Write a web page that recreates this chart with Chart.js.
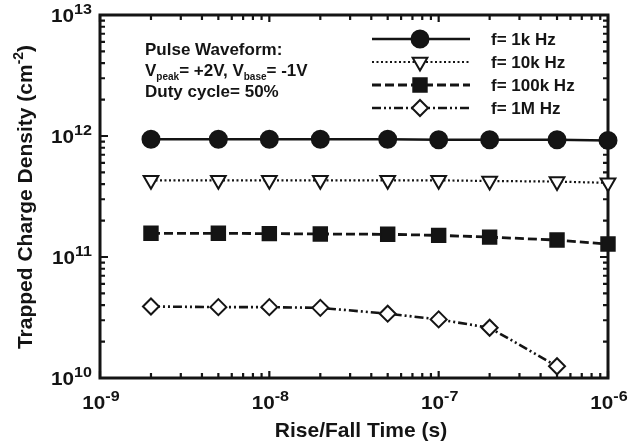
<!DOCTYPE html>
<html>
<head>
<meta charset="utf-8">
<script src="https://cdn.jsdelivr.net/npm/chart.js@4.4.1/dist/chart.umd.min.js"></script>
<style>
  html, body { margin: 0; padding: 0; background: #ffffff; }
  #wrap { width: 639px; height: 444px; }
</style>
</head>
<body>
<div id="wrap"><canvas id="c" width="639" height="444"></canvas></div>
<script>
// ---- Data ----
const riseFallTimes = [2e-9, 5e-9, 1e-8, 2e-8, 5e-8, 1e-7, 2e-7, 5e-7, 1e-6];
const density1k   = [9.4e11, 9.4e11, 9.4e11, 9.4e11, 9.4e11, 9.3e11, 9.3e11, 9.3e11, 9.2e11];
const density10k  = [4.3e11, 4.3e11, 4.3e11, 4.3e11, 4.3e11, 4.3e11, 4.25e11, 4.2e11, 4.1e11];
const density100k = [1.57e11, 1.57e11, 1.56e11, 1.55e11, 1.54e11, 1.51e11, 1.46e11, 1.38e11, 1.28e11];
const density1M   = [3.9e10, 3.85e10, 3.85e10, 3.8e10, 3.4e10, 3.05e10, 2.6e10, 1.25e10, null];
const seriesLabels = ['f= 1k Hz', 'f= 10k Hz', 'f= 100k Hz', 'f= 1M Hz'];
const xTickExponents = [-9, -8, -7, -6];
const yTickExponents = [10, 11, 12, 13];
const xTitle = 'Rise/Fall Time (s)';
const yTitle = 'Trapped Charge Density (cm';
const noteLines = ['Pulse Waveform:', 'Duty cycle= 50%'];

const INK = '#141414';
const FONT = '"Liberation Sans", Arial, Helvetica, sans-serif';

function toPoints(vals) {
  return riseFallTimes.map((t, i) => ({ x: t, y: vals[i] })).filter(p => p.y !== null);
}

const styles = [
  { pointStyle: 'circle',   radius: 8.5, rotation: 0,   fill: INK,    dash: [],              lw: 2.5 },
  { pointStyle: 'triangle', radius: 8.5, rotation: 180, fill: '#fff', dash: [2, 2.5],        lw: 2.2 },
  { pointStyle: 'rect',     radius: 9.5, rotation: 0,   fill: INK,    dash: [9, 4],          lw: 2.8 },
  { pointStyle: 'rectRot',  radius: 8,   rotation: 0,   fill: '#fff', dash: [9, 3, 2, 3, 2, 3], lw: 2.6 }
];
const seriesValues = [density1k, density10k, density100k, density1M];

const datasets = seriesValues.map((vals, i) => ({
  label: seriesLabels[i],
  data: toPoints(vals),
  showLine: true,
  borderColor: INK,
  borderWidth: styles[i].lw,
  borderDash: styles[i].dash,
  pointStyle: styles[i].pointStyle,
  pointRadius: styles[i].radius,
  pointRotation: styles[i].rotation,
  pointBackgroundColor: styles[i].fill,
  pointBorderColor: INK,
  pointBorderWidth: 2,
  tension: 0,
  clip: false
}));

function drawMarker(ctx, st, x, y) {
  ctx.save();
  ctx.setLineDash([]);
  ctx.fillStyle = st.fill;
  ctx.strokeStyle = INK;
  ctx.lineWidth = 2;
  Chart.helpers.drawPoint(ctx, { pointStyle: st.pointStyle, rotation: st.rotation, radius: st.radius, borderWidth: 2 }, x, y);
  ctx.restore();
}

// "10" with superscript exponent, slightly widened like the reference lettering
function powerLabel(ctx, exp, x, y, align, baseSize, expSize) {
  const sx = 1.15;
  const base = '10', ex = String(exp);
  ctx.font = 'bold ' + baseSize + 'px ' + FONT;
  const wb = ctx.measureText(base).width * sx;
  ctx.font = 'bold ' + expSize + 'px ' + FONT;
  const we = ctx.measureText(ex).width * sx;
  const total = wb + we;
  let x0 = align === 'center' ? x - total / 2 : (align === 'right' ? x - total : x);
  ctx.save();
  ctx.translate(x0, y);
  ctx.scale(sx, 1);
  ctx.textAlign = 'left';
  ctx.textBaseline = 'alphabetic';
  ctx.font = 'bold ' + baseSize + 'px ' + FONT;
  ctx.fillText(base, 0, 0);
  ctx.font = 'bold ' + expSize + 'px ' + FONT;
  ctx.fillText(ex, wb / sx, -baseSize * 0.45);
  ctx.restore();
}

const framePlugin = {
  id: 'frame',
  beforeDatasetsDraw(chart) {
    const { ctx, chartArea: a, scales } = chart;
    const xs = scales.x, ys = scales.y;
    ctx.save();
    ctx.strokeStyle = INK;
    ctx.fillStyle = INK;
    // minor/major ticks on all four sides (inward)
    ctx.lineWidth = 2.2;
    ctx.lineCap = 'butt';
    for (let e = -9; e <= -6; e++) {
      for (let m = 1; m <= 9; m++) {
        const v = m * Math.pow(10, e);
        if (v > 1.0001e-6) break;
        const px = xs.getPixelForValue(v);
        const len = m === 1 ? 7 : 5;
        ctx.beginPath();
        ctx.moveTo(px, a.bottom); ctx.lineTo(px, a.bottom - len);
        ctx.moveTo(px, a.top); ctx.lineTo(px, a.top + len);
        ctx.stroke();
      }
    }
    for (let e = 10; e <= 13; e++) {
      for (let m = 1; m <= 9; m++) {
        const v = m * Math.pow(10, e);
        if (v > 1.0001e13) break;
        const py = ys.getPixelForValue(v);
        const len = m === 1 ? 8 : 5;
        ctx.beginPath();
        ctx.moveTo(a.left, py); ctx.lineTo(a.left + len, py);
        ctx.moveTo(a.right, py); ctx.lineTo(a.right - len, py);
        ctx.stroke();
      }
    }
    // frame
    ctx.lineWidth = 3;
    ctx.strokeRect(a.left, a.top, a.right - a.left, a.bottom - a.top);

    // tick labels
    xTickExponents.forEach(e => {
      powerLabel(ctx, e, xs.getPixelForValue(Math.pow(10, e)) + 1, a.bottom + 31, 'center', 18, 14);
    });
    yTickExponents.forEach(e => {
      powerLabel(ctx, e, a.left - 8, ys.getPixelForValue(Math.pow(10, e)) + 7, 'right', 18, 14);
    });

    // axis titles
    ctx.font = 'bold 21px ' + FONT;
    ctx.textAlign = 'center';
    ctx.textBaseline = 'alphabetic';
    ctx.fillText(xTitle, (a.left + a.right) / 2 + 7, 437);

    ctx.save();
    ctx.translate(32, 197);
    ctx.rotate(-Math.PI / 2);
    ctx.font = 'bold 21px ' + FONT;
    const w1 = ctx.measureText(yTitle).width;
    ctx.font = 'bold 14px ' + FONT;
    const w2 = ctx.measureText('-2').width;
    ctx.font = 'bold 21px ' + FONT;
    const w3 = ctx.measureText(')').width;
    const tw = w1 + w2 + w3;
    let x0 = -tw / 2;
    ctx.textAlign = 'left';
    ctx.fillText(yTitle, x0, 0);
    ctx.font = 'bold 14px ' + FONT;
    ctx.fillText('-2', x0 + w1, -9);
    ctx.font = 'bold 21px ' + FONT;
    ctx.fillText(')', x0 + w1 + w2, 0);
    ctx.restore();

    // annotation
    ctx.textAlign = 'left';
    ctx.font = 'bold 17px ' + FONT;
    ctx.fillText(noteLines[0], 145, 55);
    let x = 145;
    const yb = 76;
    const parts = [
      ['V', 17, 0], ['peak', 10, 4], ['= +2V, V', 17, 0], ['base', 10, 4], ['= -1V', 17, 0]
    ];
    parts.forEach(([t, s, dy]) => {
      ctx.font = 'bold ' + s + 'px ' + FONT;
      ctx.fillText(t, x, yb + dy);
      x += ctx.measureText(t).width;
    });
    ctx.font = 'bold 17px ' + FONT;
    ctx.fillText(noteLines[1], 145, 97);

    // legend
    const rows = [39, 62, 85, 108];
    rows.forEach((ry, i) => {
      const st = styles[i];
      ctx.save();
      ctx.strokeStyle = INK;
      ctx.lineWidth = st.lw;
      ctx.setLineDash(st.dash);
      ctx.beginPath();
      ctx.moveTo(372, ry); ctx.lineTo(470, ry);
      ctx.stroke();
      ctx.restore();
      drawMarker(ctx, st, 420, ry);
      ctx.fillStyle = INK;
      ctx.font = 'bold 17px ' + FONT;
      ctx.textAlign = 'left';
      ctx.fillText(seriesLabels[i], 491, ry + 6);
    });
    ctx.restore();
  }
};

new Chart(document.getElementById('c'), {
  type: 'scatter',
  data: { datasets },
  options: {
    responsive: false,
    animation: false,
    layout: { padding: { left: 100, right: 31, top: 15, bottom: 66 } },
    plugins: { legend: { display: false }, tooltip: { enabled: false } },
    scales: {
      x: { type: 'logarithmic', min: 1e-9, max: 1e-6, display: false },
      y: { type: 'logarithmic', min: 1e10, max: 1e13, display: false }
    }
  },
  plugins: [framePlugin]
});
</script>
</body>
</html>
